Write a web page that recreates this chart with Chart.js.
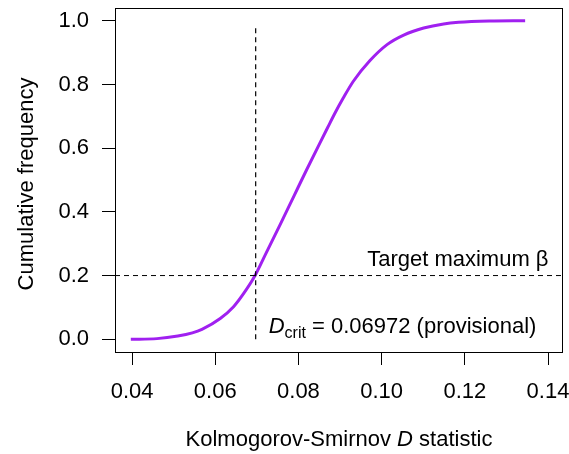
<!DOCTYPE html>
<html lang="en">
<head>
  <meta charset="UTF-8" />
  <title>Cumulative frequency of D</title>
  <script src="https://cdn.jsdelivr.net/npm/chart.js"></script>
  <style>
    html, body { margin: 0; padding: 0; background: white; }
    canvas { display: block; }
  </style>
</head>
<body>
  <canvas id="ksChart" width="569" height="454"></canvas>

  <script>
    // Simulated KS D values (x) and their cumulative frequency (y)
    const dValues = [0.0397, 0.0460, 0.0510, 0.0545, 0.0568, 0.0612, 0.0644, 0.0668, 0.0694, 0.0724,
                     0.0756, 0.0790, 0.0820, 0.0850, 0.0870, 0.0887, 0.0908, 0.0932, 0.0972, 0.1013,
                     0.1053, 0.1101, 0.1149, 0.1185, 0.1260, 0.1345];
    const cumFreq = [0.000, 0.002, 0.010, 0.020, 0.031, 0.065, 0.102, 0.143, 0.196, 0.275,
                     0.360, 0.452, 0.533, 0.612, 0.664, 0.708, 0.758, 0.810, 0.875, 0.925,
                     0.955, 0.977, 0.990, 0.995, 0.999, 1.000];

    const dCrit = 0.06972;
    const betaTarget = 0.2;
    const critLineY = [0, 0.98];

    const xLimits = [0.0359, 0.1436];
    const yLimits = [-0.04, 1.04];
    const xTicks = [0.04, 0.06, 0.08, 0.10, 0.12, 0.14];
    const yTicks = [0.0, 0.2, 0.4, 0.6, 0.8, 1.0];

    const FONT = '"Liberation Sans", Arial, Helvetica, sans-serif';

    // text bits and the box, drawn on top of the chart
    const annotations = {
      id: 'annotations',
      afterDraw(chart) {
        const ctx = chart.ctx;
        const a = chart.chartArea;
        const xs = chart.scales.x, ys = chart.scales.y;
        ctx.save();

        // frame
        ctx.strokeStyle = 'black';
        ctx.lineWidth = 1;
        ctx.strokeRect(Math.round(a.left) + 0.5, Math.round(a.top) + 0.5,
                       Math.round(a.right - a.left) - 1, Math.round(a.bottom - a.top));

        ctx.fillStyle = 'black';
        ctx.textBaseline = 'alphabetic';

        // y title
        ctx.save();
        ctx.translate(32.5, (a.top + a.bottom) / 2 + 4);
        ctx.rotate(-Math.PI / 2);
        ctx.textAlign = 'center';
        ctx.font = '22px ' + FONT;
        ctx.fillText('Cumulative frequency', 0, 0);
        ctx.restore();

        // x title with italic D
        const p1 = 'Kolmogorov-Smirnov ', p2 = 'D', p3 = ' statistic';
        ctx.font = '22px ' + FONT;
        const w1 = ctx.measureText(p1).width, w3 = ctx.measureText(p3).width;
        ctx.font = 'italic 22px ' + FONT;
        const w2 = ctx.measureText(p2).width;
        let tx = (a.left + a.right) / 2 - (w1 + w2 + w3) / 2;
        ctx.textAlign = 'left';
        ctx.font = '22px ' + FONT;
        ctx.fillText(p1, tx, 446);
        ctx.font = 'italic 22px ' + FONT;
        ctx.fillText(p2, tx + w1, 446);
        ctx.font = '22px ' + FONT;
        ctx.fillText(p3, tx + w1 + w2, 446);

        // target beta label
        ctx.textAlign = 'right';
        ctx.fillText('Target maximum β', xs.getPixelForValue(0.14) + 0.5, ys.getPixelForValue(betaTarget) - 10);

        // D crit label
        ctx.textAlign = 'left';
        let dx = xs.getPixelForValue(dCrit) + 13;
        const by = ys.getPixelForValue(0) - 6;
        ctx.font = 'italic 22px ' + FONT;
        ctx.fillText('D', dx, by);
        dx += ctx.measureText('D').width;
        ctx.font = '16px ' + FONT;
        ctx.fillText('crit', dx, by + 5);
        dx += ctx.measureText('crit').width;
        ctx.font = '22px ' + FONT;
        ctx.fillText(' = ' + dCrit.toFixed(5) + ' (provisional)', dx, by);

        ctx.restore();
      }
    };

    const ctx = document.getElementById('ksChart').getContext('2d');
    const ksChart = new Chart(ctx, {
      type: 'line',
      data: {
        datasets: [
          {
            label: 'beta',
            data: [{ x: xLimits[0], y: betaTarget }, { x: xLimits[1], y: betaTarget }],
            borderColor: 'black', borderWidth: 1, borderDash: [5, 4],
            pointRadius: 0, fill: false
          },
          {
            label: 'dcrit',
            data: critLineY.map(v => ({ x: dCrit, y: v })),
            borderColor: 'black', borderWidth: 1.2, borderDash: [5, 4],
            pointRadius: 0, fill: false
          },
          {
            label: 'cdf',
            data: dValues.map((d, i) => ({ x: d, y: cumFreq[i] })),
            borderColor: '#A020F0', borderWidth: 3,
            cubicInterpolationMode: 'monotone',
            pointRadius: 0, fill: false
          }
        ]
      },
      options: {
        responsive: false,
        devicePixelRatio: 1,
        animation: false,
        layout: { padding: { top: 8, right: 6, left: 0, bottom: 0 } },
        plugins: {
          legend: { display: false },
          tooltip: { enabled: false },
          title: { display: false }
        },
        scales: {
          x: {
            type: 'linear',
            min: xLimits[0],
            max: xLimits[1],
            afterBuildTicks: s => { s.ticks = xTicks.map(v => ({ value: v })); },
            afterFit: s => { s.height = 102; s.paddingLeft = 0; s.paddingRight = 0; },
            border: { display: false },
            grid: { drawOnChartArea: false, drawTicks: true, tickLength: 13, color: 'black', tickColor: 'black' },
            ticks: {
              autoSkip: false, maxRotation: 0, padding: 14, color: 'black',
              font: { family: FONT, size: 22 },
              callback: v => Number(v).toFixed(2)
            }
          },
          y: {
            min: yLimits[0],
            max: yLimits[1],
            afterBuildTicks: s => { s.ticks = yTicks.map(v => ({ value: v })); },
            afterFit: s => { s.width = 115; s.paddingTop = 0; s.paddingBottom = 0; },
            border: { display: false },
            grid: { drawOnChartArea: false, drawTicks: true, tickLength: 13, color: 'black', tickColor: 'black' },
            ticks: {
              autoSkip: false, padding: 13, color: 'black',
              font: { family: FONT, size: 22 },
              callback: v => Number(v).toFixed(1)
            }
          }
        }
      },
      plugins: [annotations]
    });
  </script>
</body>
</html>
